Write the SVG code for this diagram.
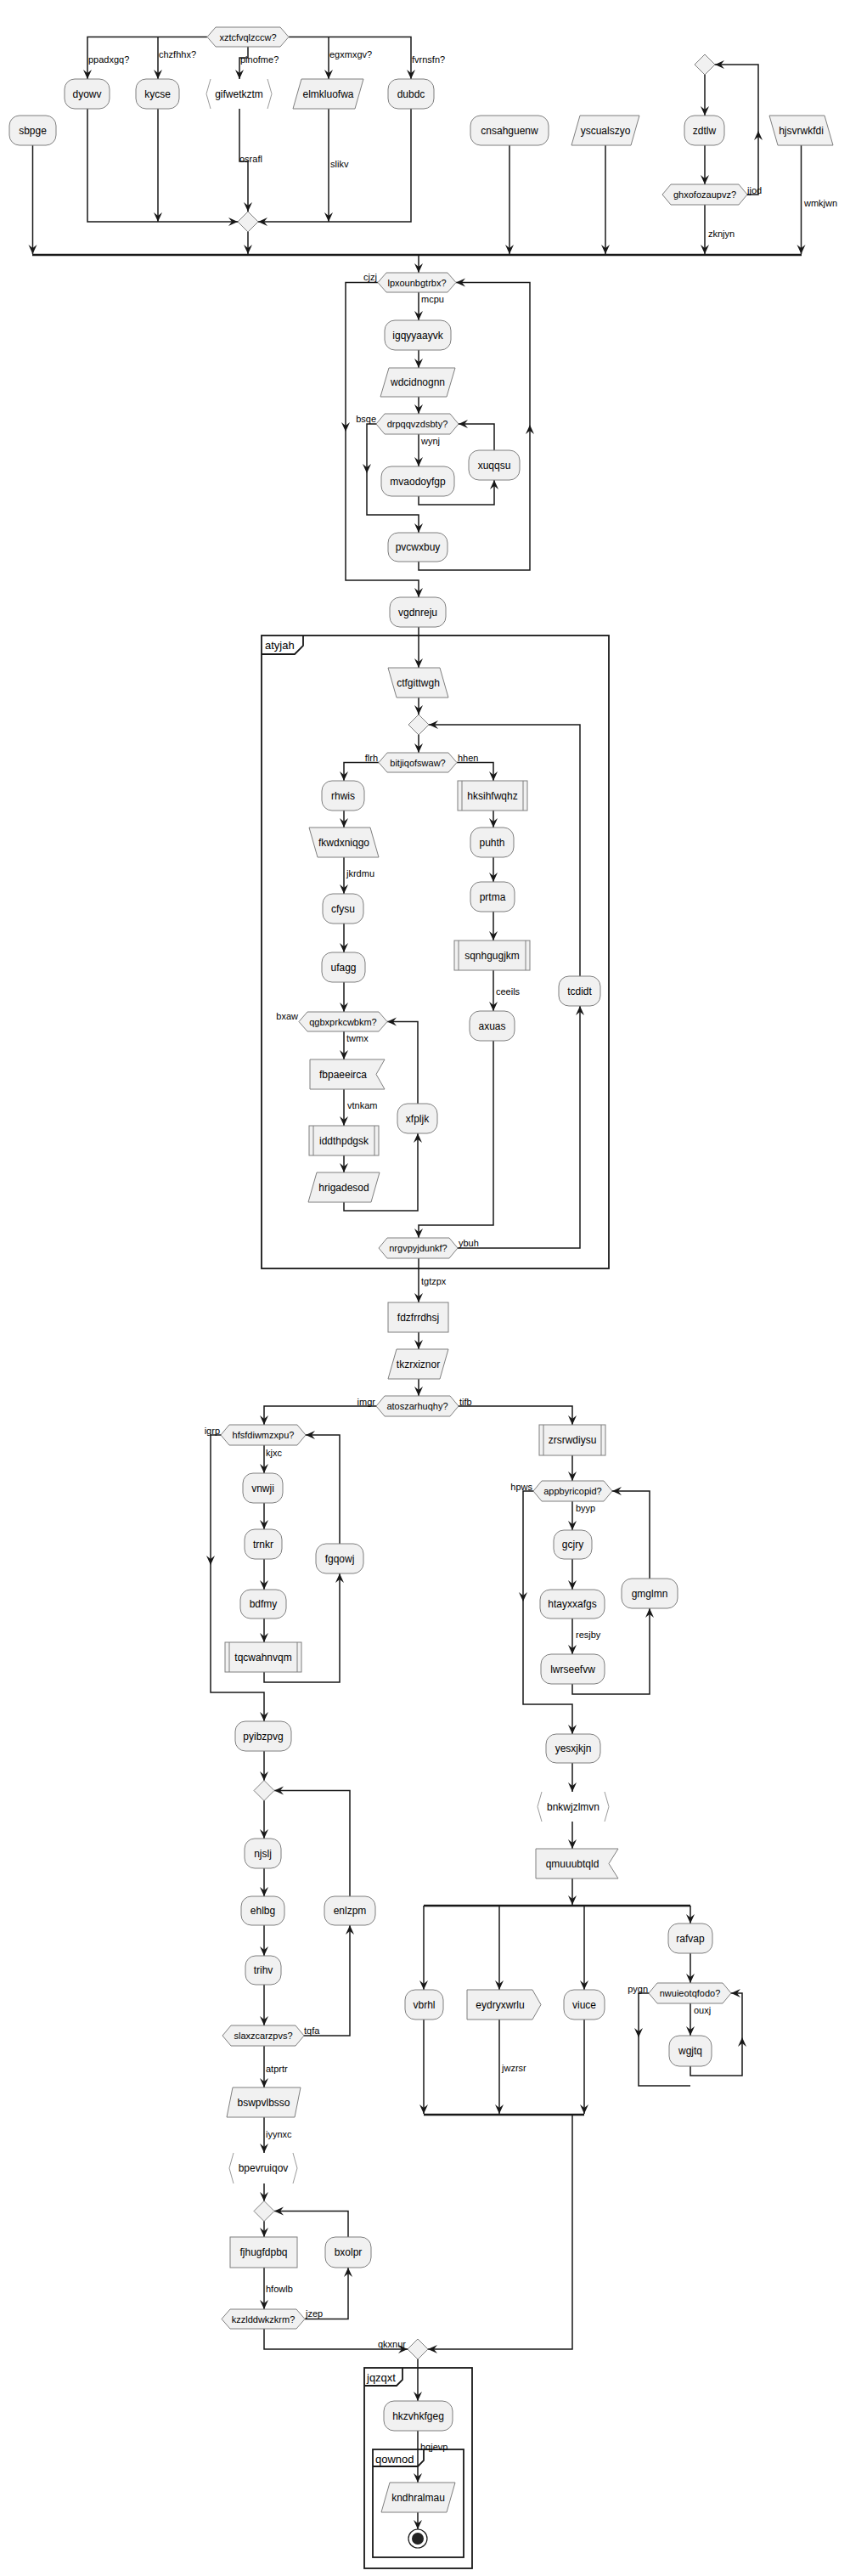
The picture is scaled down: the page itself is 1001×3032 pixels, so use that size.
<svg xmlns="http://www.w3.org/2000/svg" xmlns:xlink="http://www.w3.org/1999/xlink" width="1001" height="3032" viewBox="0 0 1001 3032">
<style>
.n{fill:#F1F1F1;stroke:#7f7f7f;stroke-width:1}
.br{fill:none;stroke:#9a9a9a;stroke-width:1}
.c{fill:none;stroke:#181818;stroke-width:1.5}
.bar{fill:none;stroke:#181818;stroke-width:2.5}
.grp{fill:none;stroke:#181818;stroke-width:1.8}
text{font-family:"Liberation Sans",Arial,sans-serif;fill:#000}
.t{font-size:12px;text-anchor:middle}
.h{font-size:11px;text-anchor:middle}
.l{font-size:11px}
.r{font-size:11px;text-anchor:end}
.g{font-size:13px}
</style>
<defs>
<path id="ah" d="M0,0 L-5,-11 L0,-7 L5,-11 Z" fill="#181818"/>
</defs>
<rect width="1001" height="3032" fill="#FFFFFF"/>

<g id="groups">
<rect class="grp" x="308" y="748" width="409" height="745"/>
<path class="grp" d="M308,770 L347,770 L357,760 L357,748"/>
<text class="g" x="312" y="764">atyjah</text>
<rect class="grp" x="429" y="2787" width="127" height="236"/>
<path class="grp" d="M429,2808 L467,2808 L474,2801 L474,2787"/>
<text class="g" x="432" y="2803">jqzqxt</text>
<rect class="grp" x="439" y="2883" width="107" height="127"/>
<path class="grp" d="M439,2903 L492,2903 L499,2896 L499,2883"/>
<text class="g" x="442" y="2899">qownod</text>
</g>

<g id="connectors">
<!-- top decision -->
<path class="c" d="M244,43.5 H103 V93"/><use href="#ah" transform="translate(103,93)"/>
<path class="c" d="M186,43.5 V93"/><use href="#ah" transform="translate(186,93)"/>
<path class="c" d="M292,55 V68 H282 V93"/><use href="#ah" transform="translate(282,93)"/>
<path class="c" d="M340,43.5 H484 V93"/><use href="#ah" transform="translate(484,93)"/>
<path class="c" d="M387,43.5 V93"/><use href="#ah" transform="translate(387,93)"/>
<text class="l" x="104" y="74">ppadxgq?</text>
<text class="l" x="187" y="68">chzfhhx?</text>
<text class="l" x="283" y="74">pinofme?</text>
<text class="l" x="388" y="68">egxmxgv?</text>
<text class="l" x="485" y="74">fvrnsfn?</text>
<path class="c" d="M103,128 V261 H280"/><use href="#ah" transform="translate(280,261) rotate(-90)"/>
<path class="c" d="M186,128 V261"/><use href="#ah" transform="translate(186,261)"/>
<path class="c" d="M282,128 V190 H292 V249"/><use href="#ah" transform="translate(292,249)"/>
<text class="l" x="282" y="191">osrafl</text>
<path class="c" d="M387,128 V261"/><use href="#ah" transform="translate(387,261)"/>
<text class="l" x="389" y="197">slikv</text>
<path class="c" d="M484,128 V261 H304"/><use href="#ah" transform="translate(304,261) rotate(90)"/>
<path class="c" d="M292,273 V299"/><use href="#ah" transform="translate(292,299)"/>
<path class="c" d="M38.5,171 V299"/><use href="#ah" transform="translate(38.5,299)"/>
<path class="c" d="M600,171 V299"/><use href="#ah" transform="translate(600,299)"/>
<path class="c" d="M713,171 V299"/><use href="#ah" transform="translate(713,299)"/>
<path class="c" d="M830,88 V136"/><use href="#ah" transform="translate(830,136)"/>
<path class="c" d="M830,171 V217"/><use href="#ah" transform="translate(830,217)"/>
<path class="c" d="M880,229 H893 V76 H842"/><use href="#ah" transform="translate(842,76) rotate(90)"/><use href="#ah" transform="translate(893,154) rotate(180)"/>
<text class="l" x="880" y="228">jjod</text>
<path class="c" d="M830,241 V299"/><use href="#ah" transform="translate(830,299)"/>
<text class="l" x="834" y="279">zknjyn</text>
<path class="c" d="M943.5,171 V299"/><use href="#ah" transform="translate(943.5,299)"/>
<text class="l" x="947" y="243">wmkjwn</text>
<path class="bar" d="M38,300 H944"/>
<path class="c" d="M493,301 V321"/><use href="#ah" transform="translate(493,321)"/>

<!-- middle loops -->
<path class="c" d="M445,332.5 H407 V683 H493 V703"/><use href="#ah" transform="translate(407,508)"/><use href="#ah" transform="translate(493,703)"/>
<text class="r" x="444" y="330">cjzj</text>
<path class="c" d="M493,344 V377"/><use href="#ah" transform="translate(493,377)"/>
<text class="l" x="496" y="356">mcpu</text>
<path class="c" d="M493,412 V433"/><use href="#ah" transform="translate(493,433)"/>
<path class="c" d="M493,467 V487"/><use href="#ah" transform="translate(493,487)"/>
<path class="c" d="M443,499 H432 V606 H493 V627"/><use href="#ah" transform="translate(432,557)"/><use href="#ah" transform="translate(493,627)"/>
<text class="r" x="443" y="497">bsqe</text>
<path class="c" d="M493,511 V549"/><use href="#ah" transform="translate(493,549)"/>
<text class="l" x="496" y="523">wynj</text>
<path class="c" d="M493,584 V594 H582 V565"/><use href="#ah" transform="translate(582,565) rotate(180)"/>
<path class="c" d="M582,530 V499 H540"/><use href="#ah" transform="translate(540,499) rotate(90)"/>
<path class="c" d="M493,661 V671 H624 V332.5 H537"/><use href="#ah" transform="translate(537,332.5) rotate(90)"/><use href="#ah" transform="translate(624,500) rotate(180)"/>
<path class="c" d="M493,738 V786"/><use href="#ah" transform="translate(493,786)"/>

<!-- atyjah -->
<path class="c" d="M493,821 V841"/><use href="#ah" transform="translate(493,841)"/>
<path class="c" d="M493,865 V886"/><use href="#ah" transform="translate(493,886)"/>
<path class="c" d="M446,897.5 H405 V919"/><use href="#ah" transform="translate(405,919)"/>
<text class="r" x="445" y="896">flrh</text>
<path class="c" d="M538,897.5 H581 V919"/><use href="#ah" transform="translate(581,919)"/>
<text class="l" x="539" y="896">hhen</text>
<path class="c" d="M405,954 V974"/><use href="#ah" transform="translate(405,974)"/>
<path class="c" d="M405,1009 V1052"/><use href="#ah" transform="translate(405,1052)"/>
<text class="l" x="408" y="1032">jkrdmu</text>
<path class="c" d="M405,1087 V1121"/><use href="#ah" transform="translate(405,1121)"/>
<path class="c" d="M405,1156 V1191"/><use href="#ah" transform="translate(405,1191)"/>
<text class="r" x="351" y="1200">bxaw</text>
<path class="c" d="M405,1214 V1247"/><use href="#ah" transform="translate(405,1247)"/>
<text class="l" x="408" y="1226">twmx</text>
<path class="c" d="M405,1282 V1325"/><use href="#ah" transform="translate(405,1325)"/>
<text class="l" x="409" y="1305">vtnkam</text>
<path class="c" d="M405,1360 V1380"/><use href="#ah" transform="translate(405,1380)"/>
<path class="c" d="M405,1415 V1425 H492 V1334"/><use href="#ah" transform="translate(492,1334) rotate(180)"/>
<path class="c" d="M492,1299 V1202.5 H456"/><use href="#ah" transform="translate(456,1202.5) rotate(90)"/>
<path class="c" d="M581,954 V974"/><use href="#ah" transform="translate(581,974)"/>
<path class="c" d="M581,1009 V1038"/><use href="#ah" transform="translate(581,1038)"/>
<path class="c" d="M581,1073 V1107"/><use href="#ah" transform="translate(581,1107)"/>
<path class="c" d="M581,1142 V1190"/><use href="#ah" transform="translate(581,1190)"/>
<text class="l" x="584" y="1171">ceeils</text>
<path class="c" d="M581,1225 V1442 H493 V1457"/><use href="#ah" transform="translate(493,1457)"/>
<path class="c" d="M539,1469 H683 V1184"/><use href="#ah" transform="translate(683,1184) rotate(180)"/>
<text class="l" x="540" y="1467">ybuh</text>
<path class="c" d="M683,1149 V853 H505"/><use href="#ah" transform="translate(505,853) rotate(90)"/>
<path class="c" d="M493,1481 V1533"/><use href="#ah" transform="translate(493,1533)"/>
<text class="l" x="496" y="1512">tgtzpx</text>
<path class="c" d="M493,1568 V1588"/><use href="#ah" transform="translate(493,1588)"/>
<path class="c" d="M493,1623 V1643"/><use href="#ah" transform="translate(493,1643)"/>
<path class="c" d="M443,1655 H311 V1677"/><use href="#ah" transform="translate(311,1677)"/>
<text class="r" x="442" y="1654">imgr</text>
<path class="c" d="M540,1655 H674 V1677"/><use href="#ah" transform="translate(674,1677)"/>
<text class="l" x="541" y="1654">tifb</text>

<!-- left branch -->
<path class="c" d="M260,1689 H248 V1992 H311 V2026"/><use href="#ah" transform="translate(248,1842)"/><use href="#ah" transform="translate(311,2026)"/>
<text class="r" x="259" y="1688">igrp</text>
<path class="c" d="M311,1701 V1734"/><use href="#ah" transform="translate(311,1734)"/>
<text class="l" x="313" y="1714">kjxc</text>
<path class="c" d="M311,1769 V1800"/><use href="#ah" transform="translate(311,1800)"/>
<path class="c" d="M311,1835 V1871"/><use href="#ah" transform="translate(311,1871)"/>
<path class="c" d="M311,1905 V1933"/><use href="#ah" transform="translate(311,1933)"/>
<path class="c" d="M311,1968 V1980 H400 V1852"/><use href="#ah" transform="translate(400,1852) rotate(180)"/>
<path class="c" d="M400,1817 V1689 H360"/><use href="#ah" transform="translate(360,1689) rotate(90)"/>
<path class="c" d="M311,2061 V2096"/><use href="#ah" transform="translate(311,2096)"/>
<path class="c" d="M311,2119 V2164"/><use href="#ah" transform="translate(311,2164)"/>
<path class="c" d="M311,2199 V2232"/><use href="#ah" transform="translate(311,2232)"/>
<path class="c" d="M311,2266 V2302"/><use href="#ah" transform="translate(311,2302)"/>
<path class="c" d="M311,2336 V2384"/><use href="#ah" transform="translate(311,2384)"/>
<path class="c" d="M358,2396 H412 V2266"/><use href="#ah" transform="translate(412,2266) rotate(180)"/>
<text class="l" x="358" y="2394">tqfa</text>
<path class="c" d="M412,2232 V2107.5 H323"/><use href="#ah" transform="translate(323,2107.5) rotate(90)"/>
<path class="c" d="M311,2408 V2457"/><use href="#ah" transform="translate(311,2457)"/>
<text class="l" x="313" y="2439">atprtr</text>
<path class="c" d="M311,2492 V2534"/><use href="#ah" transform="translate(311,2534)"/>
<text class="l" x="313" y="2516">iyynxc</text>
<path class="c" d="M311,2570 V2591"/><use href="#ah" transform="translate(311,2591)"/>
<path class="c" d="M311,2614 V2633"/><use href="#ah" transform="translate(311,2633)"/>
<path class="c" d="M311,2669 V2718"/><use href="#ah" transform="translate(311,2718)"/>
<text class="l" x="313" y="2698">hfowlb</text>
<path class="c" d="M359,2729.5 H410 V2669"/><use href="#ah" transform="translate(410,2669) rotate(180)"/>
<text class="l" x="360" y="2727">jzep</text>
<path class="c" d="M410,2633 V2602.5 H323"/><use href="#ah" transform="translate(323,2602.5) rotate(90)"/>
<path class="c" d="M311,2741 V2765 H480"/><use href="#ah" transform="translate(480,2765) rotate(-90)"/>
<text class="r" x="478" y="2763">qkxnur</text>

<!-- right branch -->
<path class="c" d="M674,1713 V1743"/><use href="#ah" transform="translate(674,1743)"/>
<path class="c" d="M628,1755 H616 V2006 H674 V2041"/><use href="#ah" transform="translate(616,1885)"/><use href="#ah" transform="translate(674,2041)"/>
<text class="r" x="627" y="1754">hpws</text>
<path class="c" d="M674,1767 V1801"/><use href="#ah" transform="translate(674,1801)"/>
<text class="l" x="678" y="1779">byyp</text>
<path class="c" d="M674,1835 V1871"/><use href="#ah" transform="translate(674,1871)"/>
<path class="c" d="M674,1905 V1947"/><use href="#ah" transform="translate(674,1947)"/>
<text class="l" x="678" y="1928">resjby</text>
<path class="c" d="M674,1982 V1994 H765 V1893"/><use href="#ah" transform="translate(765,1893) rotate(180)"/>
<path class="c" d="M765,1858 V1755 H721"/><use href="#ah" transform="translate(721,1755) rotate(90)"/>
<path class="c" d="M674,2075 V2109"/><use href="#ah" transform="translate(674,2109)"/>
<path class="c" d="M674,2144 V2176"/><use href="#ah" transform="translate(674,2176)"/>
<path class="c" d="M674,2211 V2242"/><use href="#ah" transform="translate(674,2242)"/>
<path class="bar" d="M499,2243 H813"/>
<path class="c" d="M499,2243 V2342"/><use href="#ah" transform="translate(499,2342)"/>
<path class="c" d="M588,2243 V2342"/><use href="#ah" transform="translate(588,2342)"/>
<path class="c" d="M688,2243 V2342"/><use href="#ah" transform="translate(688,2342)"/>
<path class="c" d="M813,2243 V2264"/><use href="#ah" transform="translate(813,2264)"/>
<path class="c" d="M813,2299 V2334"/><use href="#ah" transform="translate(813,2334)"/>
<path class="c" d="M764,2346 H752 V2455 H813"/><use href="#ah" transform="translate(752,2398)"/>
<text class="r" x="763" y="2345">pygn</text>
<path class="c" d="M813,2358 V2396"/><use href="#ah" transform="translate(813,2396)"/>
<text class="l" x="817" y="2370">ouxj</text>
<path class="c" d="M813,2432 V2443 H874 V2346 H861"/><use href="#ah" transform="translate(861,2346) rotate(90)"/><use href="#ah" transform="translate(874,2398) rotate(180)"/>
<path class="c" d="M499,2377 V2488"/><use href="#ah" transform="translate(499,2488)"/>
<path class="c" d="M588,2377 V2488"/><use href="#ah" transform="translate(588,2488)"/>
<text class="l" x="591" y="2438">jwzrsr</text>
<path class="c" d="M688,2377 V2488"/><use href="#ah" transform="translate(688,2488)"/>
<path class="bar" d="M499,2489 H688"/>
<path class="c" d="M674,2490 V2765 H504"/><use href="#ah" transform="translate(504,2765) rotate(90)"/>
<path class="c" d="M492,2777 V2826"/><use href="#ah" transform="translate(492,2826)"/>
<path class="c" d="M492,2861 V2922"/><use href="#ah" transform="translate(492,2922)"/>
<text class="l" x="495" y="2884">hqjevp</text>
<path class="c" d="M492,2957 V2977"/><use href="#ah" transform="translate(492,2977)"/>
</g>

<!-- top nodes -->
<g id="n-xztcfvqlzccw"><polygon class="n" points="244,43.5 254,32 330,32 340,43.5 330,55 254,55"/><text class="h" x="292" y="47.5">xztcfvqlzccw?</text></g>
<g id="n-dyowv"><rect class="n" x="76" y="93" width="53" height="35" rx="12"/><text class="t" x="102.5" y="115">dyowv</text></g>
<g id="n-kycse"><rect class="n" x="160" y="93" width="51" height="35" rx="12"/><text class="t" x="185.5" y="115">kycse</text></g>
<g id="n-gifwetkztm"><polyline class="br" points="248,93 243,110.5 248,128"/><polyline class="br" points="315,93 320,110.5 315,128"/><text class="t" x="281.5" y="115">gifwetkztm</text></g>
<g id="n-elmkluofwa"><polygon class="n" points="355,93 428,93 418,128 345,128"/><text class="t" x="386.5" y="115">elmkluofwa</text></g>
<g id="n-dubdc"><rect class="n" x="457" y="93" width="54" height="35" rx="12"/><text class="t" x="484" y="115">dubdc</text></g>
<g id="n-sbpge"><rect class="n" x="11" y="136" width="55" height="35" rx="12"/><text class="t" x="38.5" y="158">sbpge</text></g>
<g id="n-merge1"><polygon class="n" points="292,249 304,261 292,273 280,261"/></g>
<g id="n-cnsahguenw"><rect class="n" x="554" y="136" width="92" height="35" rx="12"/><text class="t" x="600" y="158">cnsahguenw</text></g>
<g id="n-yscualszyo"><polygon class="n" points="683,136 753,136 743,171 673,171"/><text class="t" x="713" y="158">yscualszyo</text></g>
<g id="n-loop1"><polygon class="n" points="830,64 842,76 830,88 818,76"/></g>
<g id="n-zdtlw"><rect class="n" x="806" y="136" width="47" height="35" rx="12"/><text class="t" x="829.5" y="158">zdtlw</text></g>
<g id="n-ghxofozaupvz"><polygon class="n" points="780,229 790,217 870,217 880,229 870,241 790,241"/><text class="h" x="830" y="233">ghxofozaupvz?</text></g>
<g id="n-hjsvrwkfdi"><polygon class="n" points="906,136 971,136 981,171 916,171"/><text class="t" x="943.5" y="158">hjsvrwkfdi</text></g>

<!-- middle nodes -->
<g id="n-lpxounbgtrbx"><polygon class="n" points="445,332.5 455,321 527,321 537,332.5 527,344 455,344"/><text class="h" x="491" y="336.5">lpxounbgtrbx?</text></g>
<g id="n-igqyyaayvk"><rect class="n" x="453" y="377" width="78" height="35" rx="12"/><text class="t" x="492" y="399">igqyyaayvk</text></g>
<g id="n-wdcidnognn"><polygon class="n" points="458,433 536,433 526,467 448,467"/><text class="t" x="492" y="454">wdcidnognn</text></g>
<g id="n-drpqqvzdsbty"><polygon class="n" points="443,499 453,487 530,487 540,499 530,511 453,511"/><text class="h" x="491.5" y="503">drpqqvzdsbty?</text></g>
<g id="n-mvaodoyfgp"><rect class="n" x="449" y="549" width="86" height="35" rx="12"/><text class="t" x="492" y="571">mvaodoyfgp</text></g>
<g id="n-xuqqsu"><rect class="n" x="552" y="530" width="60" height="35" rx="12"/><text class="t" x="582" y="552">xuqqsu</text></g>
<g id="n-pvcwxbuy"><rect class="n" x="457" y="627" width="70" height="34" rx="12"/><text class="t" x="492" y="648">pvcwxbuy</text></g>
<g id="n-vgdnreju"><rect class="n" x="459" y="703" width="66" height="35" rx="12"/><text class="t" x="492" y="725">vgdnreju</text></g>

<!-- atyjah nodes -->
<g id="n-ctfgittwgh"><polygon class="n" points="457,786 518,786 528,821 467,821"/><text class="t" x="492.5" y="808">ctfgittwgh</text></g>
<g id="n-loop2"><polygon class="n" points="493,841 505,853 493,865 481,853"/></g>
<g id="n-bitjiqofswaw"><polygon class="n" points="446,897.5 456,886 528,886 538,897.5 528,909 456,909"/><text class="h" x="492" y="901.5">bitjiqofswaw?</text></g>
<g id="n-rhwis"><rect class="n" x="379" y="919" width="50" height="35" rx="12"/><text class="t" x="404" y="941">rhwis</text></g>
<g id="n-fkwdxniqgo"><polygon class="n" points="364,974 436,974 446,1009 374,1009"/><text class="t" x="405" y="996">fkwdxniqgo</text></g>
<g id="n-cfysu"><rect class="n" x="380" y="1052" width="48" height="35" rx="12"/><text class="t" x="404" y="1074">cfysu</text></g>
<g id="n-ufagg"><rect class="n" x="379" y="1121" width="51" height="35" rx="12"/><text class="t" x="404.5" y="1143">ufagg</text></g>
<g id="n-qgbxprkcwbkm"><polygon class="n" points="352,1202.5 362,1191 446,1191 456,1202.5 446,1214 362,1214"/><text class="h" x="404" y="1206.5">qgbxprkcwbkm?</text></g>
<g id="n-fbpaeeirca"><polygon class="n" points="365,1247 453,1247 443,1264.5 453,1282 365,1282"/><text class="t" x="404" y="1269">fbpaeeirca</text></g>
<g id="n-iddthpdgsk"><rect class="n" x="364" y="1325" width="82" height="35"/><line class="n" x1="369" y1="1325" x2="369" y2="1360"/><line class="n" x1="441" y1="1325" x2="441" y2="1360"/><text class="t" x="405" y="1347">iddthpdgsk</text></g>
<g id="n-hrigadesod"><polygon class="n" points="373,1380 447,1380 437,1415 363,1415"/><text class="t" x="405" y="1402">hrigadesod</text></g>
<g id="n-xfpljk"><rect class="n" x="468" y="1299" width="47" height="35" rx="12"/><text class="t" x="491.5" y="1321">xfpljk</text></g>
<g id="n-hksihfwqhz"><rect class="n" x="539" y="919" width="82" height="35"/><line class="n" x1="544" y1="919" x2="544" y2="954"/><line class="n" x1="616" y1="919" x2="616" y2="954"/><text class="t" x="580" y="941">hksihfwqhz</text></g>
<g id="n-puhth"><rect class="n" x="554" y="974" width="51" height="35" rx="12"/><text class="t" x="579.5" y="996">puhth</text></g>
<g id="n-prtma"><rect class="n" x="554" y="1038" width="52" height="35" rx="12"/><text class="t" x="580" y="1060">prtma</text></g>
<g id="n-sqnhgugjkm"><rect class="n" x="535" y="1107" width="89" height="35"/><line class="n" x1="540" y1="1107" x2="540" y2="1142"/><line class="n" x1="619" y1="1107" x2="619" y2="1142"/><text class="t" x="579.5" y="1129">sqnhgugjkm</text></g>
<g id="n-axuas"><rect class="n" x="553" y="1190" width="53" height="35" rx="12"/><text class="t" x="579.5" y="1212">axuas</text></g>
<g id="n-tcdidt"><rect class="n" x="658" y="1149" width="49" height="35" rx="12"/><text class="t" x="682.5" y="1171">tcdidt</text></g>
<g id="n-nrgvpyjdunkf"><polygon class="n" points="446,1469 456,1457 529,1457 539,1469 529,1481 456,1481"/><text class="h" x="492.5" y="1473">nrgvpyjdunkf?</text></g>

<!-- after group -->
<g id="n-fdzfrrdhsj"><rect class="n" x="457" y="1533" width="71" height="35"/><text class="t" x="492.5" y="1555">fdzfrrdhsj</text></g>
<g id="n-tkzrxiznor"><polygon class="n" points="467,1588 528,1588 518,1623 457,1623"/><text class="t" x="492.5" y="1610">tkzrxiznor</text></g>
<g id="n-atoszarhuqhy"><polygon class="n" points="443,1655 453,1643 530,1643 540,1655 530,1667 453,1667"/><text class="h" x="491.5" y="1659">atoszarhuqhy?</text></g>

<!-- left branch nodes -->
<g id="n-hfsfdiwmzxpu"><polygon class="n" points="260,1689 270,1677 350,1677 360,1689 350,1701 270,1701"/><text class="h" x="310" y="1693">hfsfdiwmzxpu?</text></g>
<g id="n-vnwji"><rect class="n" x="286" y="1734" width="47" height="35" rx="12"/><text class="t" x="309.5" y="1756">vnwji</text></g>
<g id="n-trnkr"><rect class="n" x="288" y="1800" width="44" height="35" rx="12"/><text class="t" x="310" y="1822">trnkr</text></g>
<g id="n-bdfmy"><rect class="n" x="283" y="1871" width="54" height="34" rx="12"/><text class="t" x="310" y="1892">bdfmy</text></g>
<g id="n-tqcwahnvqm"><rect class="n" x="265" y="1933" width="90" height="35"/><line class="n" x1="270" y1="1933" x2="270" y2="1968"/><line class="n" x1="350" y1="1933" x2="350" y2="1968"/><text class="t" x="310" y="1955">tqcwahnvqm</text></g>
<g id="n-fgqowj"><rect class="n" x="372" y="1817" width="56" height="35" rx="12"/><text class="t" x="400" y="1839">fgqowj</text></g>
<g id="n-pyibzpvg"><rect class="n" x="277" y="2026" width="66" height="35" rx="12"/><text class="t" x="310" y="2048">pyibzpvg</text></g>
<g id="n-loop3"><polygon class="n" points="311,2095.5 323,2107.5 311,2119.5 299,2107.5"/></g>
<g id="n-njslj"><rect class="n" x="288" y="2164" width="43" height="35" rx="12"/><text class="t" x="309.5" y="2186">njslj</text></g>
<g id="n-ehlbg"><rect class="n" x="284" y="2232" width="51" height="34" rx="12"/><text class="t" x="309.5" y="2253">ehlbg</text></g>
<g id="n-trihv"><rect class="n" x="289" y="2302" width="42" height="34" rx="12"/><text class="t" x="310" y="2323">trihv</text></g>
<g id="n-slaxzcarzpvs"><polygon class="n" points="262,2396 272,2384 348,2384 358,2396 348,2408 272,2408"/><text class="h" x="310" y="2400">slaxzcarzpvs?</text></g>
<g id="n-enlzpm"><rect class="n" x="382" y="2232" width="60" height="34" rx="12"/><text class="t" x="412" y="2253">enlzpm</text></g>
<g id="n-bswpvlbsso"><polygon class="n" points="274,2457 354,2457 347,2492 267,2492"/><text class="t" x="310.5" y="2479">bswpvlbsso</text></g>
<g id="n-bpevruiqov"><polyline class="br" points="275,2534 270,2552 275,2570"/><polyline class="br" points="345,2534 350,2552 345,2570"/><text class="t" x="310" y="2556">bpevruiqov</text></g>
<g id="n-loop4"><polygon class="n" points="311,2590.5 323,2602.5 311,2614.5 299,2602.5"/></g>
<g id="n-fjhugfdpbq"><rect class="n" x="271" y="2633" width="79" height="36"/><text class="t" x="310.5" y="2655">fjhugfdpbq</text></g>
<g id="n-kzzlddwkzkrm"><polygon class="n" points="261,2729.5 271,2718 349,2718 359,2729.5 349,2741 271,2741"/><text class="h" x="310" y="2733.5">kzzlddwkzkrm?</text></g>
<g id="n-bxolpr"><rect class="n" x="383" y="2633" width="54" height="36" rx="12"/><text class="t" x="410" y="2655">bxolpr</text></g>

<!-- right branch nodes -->
<g id="n-zrsrwdiysu"><rect class="n" x="635" y="1677" width="78" height="36"/><line class="n" x1="640" y1="1677" x2="640" y2="1713"/><line class="n" x1="708" y1="1677" x2="708" y2="1713"/><text class="t" x="674" y="1699">zrsrwdiysu</text></g>
<g id="n-appbyricopid"><polygon class="n" points="628,1755 638,1743 711,1743 721,1755 711,1767 638,1767"/><text class="h" x="674.5" y="1759">appbyricopid?</text></g>
<g id="n-gcjry"><rect class="n" x="652" y="1801" width="45" height="34" rx="12"/><text class="t" x="674.5" y="1822">gcjry</text></g>
<g id="n-htayxxafgs"><rect class="n" x="636" y="1871" width="76" height="34" rx="12"/><text class="t" x="674" y="1892">htayxxafgs</text></g>
<g id="n-lwrseefvw"><rect class="n" x="637" y="1947" width="75" height="35" rx="12"/><text class="t" x="674.5" y="1969">lwrseefvw</text></g>
<g id="n-gmglmn"><rect class="n" x="732" y="1858" width="66" height="35" rx="12"/><text class="t" x="765" y="1880">gmglmn</text></g>
<g id="n-yesxjkjn"><rect class="n" x="643" y="2041" width="64" height="34" rx="12"/><text class="t" x="675" y="2062">yesxjkjn</text></g>
<g id="n-bnkwjzlmvn"><polyline class="br" points="638,2109 633,2126.5 638,2144"/><polyline class="br" points="712,2109 717,2126.5 712,2144"/><text class="t" x="675" y="2131">bnkwjzlmvn</text></g>
<g id="n-qmuuubtqld"><polygon class="n" points="631,2176 728,2176 717,2193.5 728,2211 631,2211"/><text class="t" x="674" y="2198">qmuuubtqld</text></g>
<g id="n-vbrhl"><rect class="n" x="477" y="2342" width="45" height="35" rx="12"/><text class="t" x="499.5" y="2364">vbrhl</text></g>
<g id="n-eydryxwrlu"><polygon class="n" points="550,2342 627,2342 637,2359.5 627,2377 550,2377"/><text class="t" x="589" y="2364">eydryxwrlu</text></g>
<g id="n-viuce"><rect class="n" x="664" y="2342" width="48" height="35" rx="12"/><text class="t" x="688" y="2364">viuce</text></g>
<g id="n-rafvap"><rect class="n" x="787" y="2264" width="52" height="35" rx="12"/><text class="t" x="813" y="2286">rafvap</text></g>
<g id="n-nwuieotqfodo"><polygon class="n" points="764,2346 774,2334 851,2334 861,2346 851,2358 774,2358"/><text class="h" x="812.5" y="2350">nwuieotqfodo?</text></g>
<g id="n-wgjtq"><rect class="n" x="788" y="2396" width="50" height="36" rx="12"/><text class="t" x="813" y="2418">wgjtq</text></g>

<!-- bottom -->
<g id="n-merge2"><polygon class="n" points="492,2753 504,2765 492,2777 480,2765"/></g>
<g id="n-hkzvhkfgeg"><rect class="n" x="452" y="2826" width="81" height="35" rx="12"/><text class="t" x="492.5" y="2848">hkzvhkfgeg</text></g>
<g id="n-kndhralmau"><polygon class="n" points="459,2922 536,2922 526,2957 449,2957"/><text class="t" x="492.5" y="2944">kndhralmau</text></g>
<g id="n-end"><circle cx="492" cy="2988" r="11" fill="#FFFFFF" stroke="#181818" stroke-width="1.2"/><circle cx="492" cy="2988" r="7" fill="#222222"/></g>
</svg>
